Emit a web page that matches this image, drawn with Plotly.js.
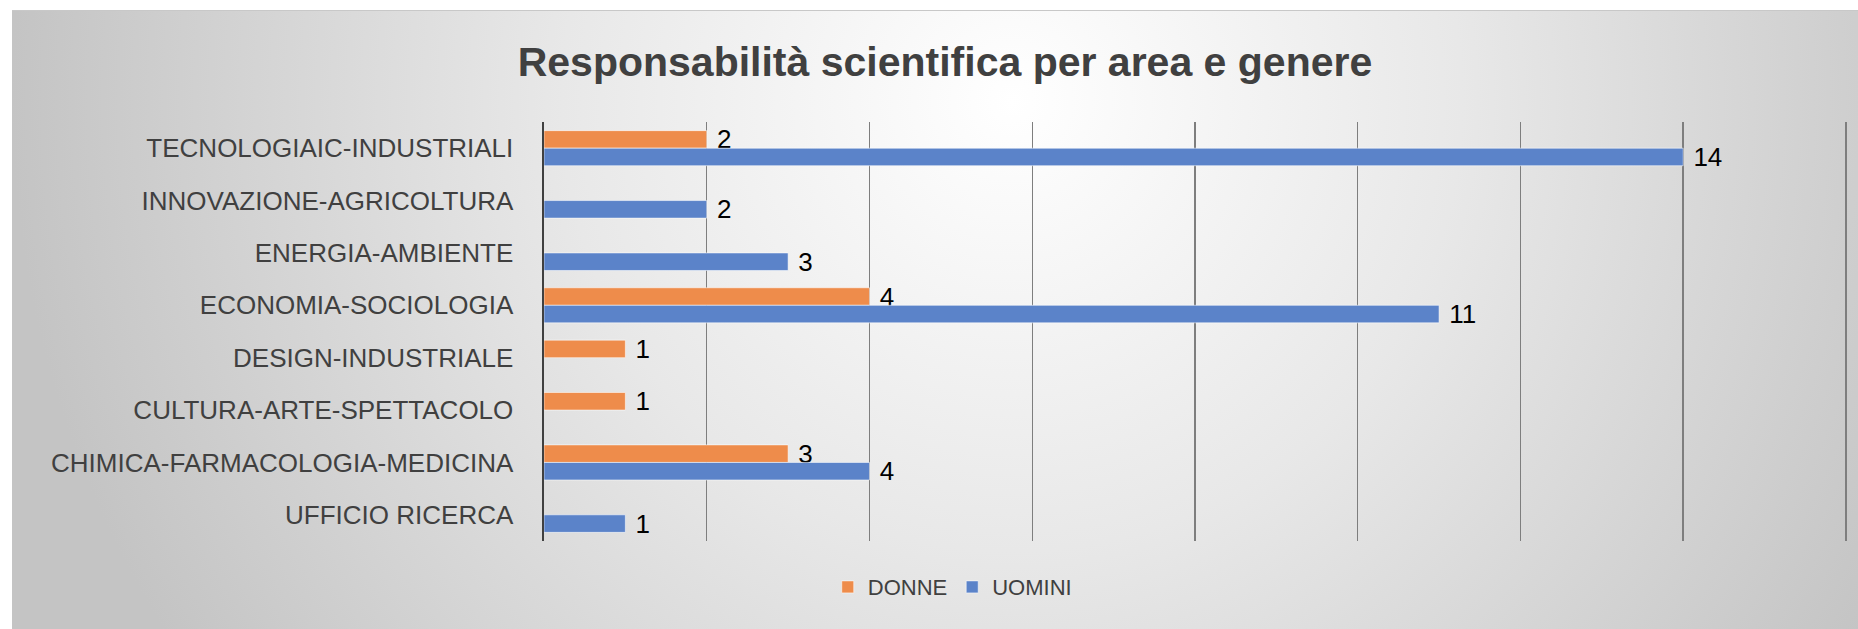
<!DOCTYPE html>
<html>
<head>
<meta charset="utf-8">
<script src="https://cdn.plot.ly/plotly-3.0.1.min.js"></script>
<style>
  html, body { margin: 0; padding: 0; background: #ffffff; }
  #bg {
    position: absolute; left: 12px; top: 10px; width: 1846px; height: 619px;
    border-top: 1px solid #c8c8c8;
    background: radial-gradient(ellipse 1000px 1000px at 1000px 90px, #ffffff 0%, #e8e8e8 45%, #c4c4c4 100%);
  }
  #chart { position: absolute; left: 0; top: 0; width: 1858px; height: 629px; }
</style>
</head>
<body>
<div id="bg"></div>
<div id="chart"></div>
<script>
// Categories listed top to bottom as shown in the chart
const categories = [
  "TECNOLOGIAIC-INDUSTRIALI",
  "INNOVAZIONE-AGRICOLTURA",
  "ENERGIA-AMBIENTE",
  "ECONOMIA-SOCIOLOGIA",
  "DESIGN-INDUSTRIALE",
  "CULTURA-ARTE-SPETTACOLO",
  "CHIMICA-FARMACOLOGIA-MEDICINA",
  "UFFICIO RICERCA"
];
const donne  = [2, null, null, 4, 1, 1, 3, null];
const uomini = [14, 2, 3, 11, null, null, 4, 1];
const seriesNames = ["DONNE", "UOMINI"];
const xTicks = [0, 2, 4, 6, 8, 10, 12, 14, 16];

const labelFont = {family: "Liberation Sans, Arial, sans-serif", size: 26, color: "#000000"};

const traces = [
  {
    type: "bar", orientation: "h", name: seriesNames[0],
    y: categories, x: donne,
    marker: {color: "#ee8c4b", line: {color: "rgba(255,255,255,0.55)", width: 1}},
    texttemplate: "\u00a0%{x}", textposition: "outside", textfont: labelFont,
    constraintext: "none", cliponaxis: false, hoverinfo: "x+y"
  },
  {
    type: "bar", orientation: "h", name: seriesNames[1],
    y: categories, x: uomini,
    marker: {color: "#5b83c9", line: {color: "rgba(255,255,255,0.55)", width: 1}},
    texttemplate: "\u00a0%{x}", textposition: "outside", textfont: labelFont,
    constraintext: "none", cliponaxis: false, hoverinfo: "x+y"
  }
];

const layout = {
  width: 1858, height: 629,
  paper_bgcolor: "rgba(0,0,0,0)", plot_bgcolor: "rgba(0,0,0,0)",
  margin: {l: 544, r: 8, t: 122, b: 88, pad: 0},
  barmode: "group", bargap: 0.33, bargroupgap: 0,
  title: {
    text: "Responsabilità scientifica per area e genere",
    font: {family: "Liberation Sans, Arial, sans-serif", size: 41, color: "#404040", weight: 700},
    x: 0.5086, xref: "container", xanchor: "center",
    y: 1 - 62/629, yref: "container", yanchor: "middle"
  },
  xaxis: {
    range: [0, 16.05], tickvals: xTicks, showticklabels: false,
    showgrid: true, gridcolor: "#7e7e7e", gridwidth: 1.4,
    zeroline: false, showline: false, ticks: ""
  },
  yaxis: {
    type: "category", categoryorder: "array", categoryarray: categories,
    autorange: "reversed",
    showgrid: false, zeroline: false,
    showline: true, linecolor: "#404040", linewidth: 2.5,
    ticks: "", ticklabelstandoff: 23,
    tickfont: {family: "Liberation Sans, Arial, sans-serif", size: 26, color: "#404040"}
  },
  legend: {
    orientation: "h", x: 0.3126, xanchor: "center", y: -0.11, yanchor: "middle",
    font: {family: "Liberation Sans, Arial, sans-serif", size: 22, color: "#404040"},
    bgcolor: "rgba(0,0,0,0)", itemclick: false, itemdoubleclick: false
  },
  showlegend: true
};

Plotly.newPlot("chart", traces, layout, {staticPlot: true, displayModeBar: false});
</script>
</body>
</html>
